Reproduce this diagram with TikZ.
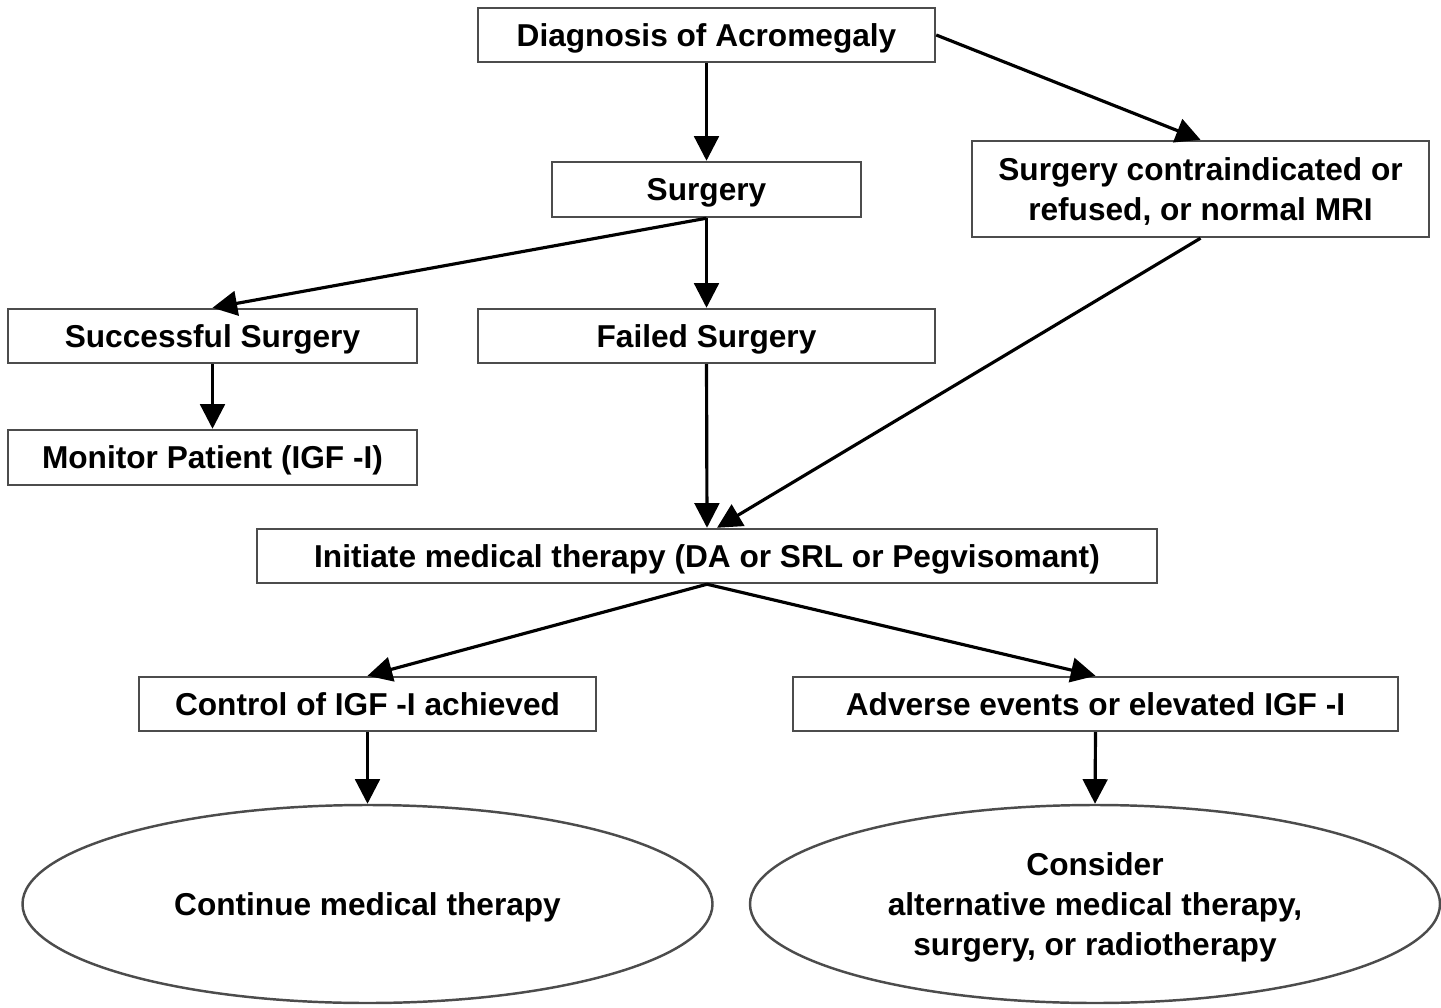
\documentclass[tikz,border=0pt]{standalone}
\usepackage{fontspec}
\setmainfont{Liberation Sans}
\usetikzlibrary{arrows.meta, shapes.geometric}
\tikzset{
  stepbox/.style={draw=gray!60!black, line width=0.7pt, rectangle, inner sep=1pt,
    align=center, text depth=0pt, font=\fontsize{9}{11.5}\selectfont\bfseries},
  endoval/.style={draw=gray!60!black, line width=0.7pt, ellipse, inner sep=0pt,
    align=center, text depth=0pt, minimum width=6.9cm, minimum height=1.98cm,
    font=\fontsize{9}{11.5}\selectfont\bfseries}
}

\begin{document}
\begin{tikzpicture}[line width=0.9pt, >={Triangle[width=7pt,length=7pt]}]
  \useasboundingbox (0,0) rectangle (14.41,-10.08);
  % top of the chart
  \node[stepbox, minimum width=4.57cm, minimum height=0.54cm] (diag) at (7.065,-0.35) {Diagnosis of Acromegaly};
  \node[stepbox, minimum width=3.09cm, minimum height=0.55cm] (surg) at (7.065,-1.895) {Surgery};
  \node[stepbox, minimum width=4.57cm, minimum height=0.96cm] (contra) at (12.005,-1.89) {Surgery contraindicated or\\refused, or normal MRI};
  %
  \node[stepbox, minimum width=4.09cm, minimum height=0.54cm] (succ) at (2.125,-3.36) {Successful Surgery};
  \node[stepbox, minimum width=4.57cm, minimum height=0.54cm] (fail) at (7.065,-3.36) {Failed Surgery};
  \node[stepbox, minimum width=4.09cm, minimum height=0.55cm] (monitor) at (2.125,-4.575) {Monitor Patient (IGF -I)};
  %
  \node[stepbox, minimum width=9.0cm, minimum height=0.54cm] (init) at (7.07,-5.56) {Initiate medical therapy (DA or SRL or Pegvisomant)};
  \node[stepbox, minimum width=4.57cm, minimum height=0.54cm] (ctrl) at (3.675,-7.04) {Control of IGF -I achieved};
  \node[stepbox, minimum width=6.05cm, minimum height=0.54cm] (adv) at (10.955,-7.04) {Adverse events or elevated IGF -I};
  %
  \node[endoval] (cont) at (3.675,-9.04) {Continue medical therapy};
  \node[endoval] (cons) at (10.95,-9.04) {Consider\\alternative medical therapy,\\surgery, or radiotherapy};
  % connectors
  \draw[->] (diag.south) -- (surg.north);
  \draw[->] (diag.east) -- (contra.north);
  \draw[->] (surg.south) -- (succ.north);
  \draw[->] (surg.south) -- (fail.north);
  \draw[->] (succ.south) -- (monitor.north);
  \draw[->] (fail.south) -- (init.north);
  \draw[->] (contra.south) -- ([xshift=1mm]init.north);
  \draw[->] (init.south) -- (ctrl.north);
  \draw[->] (init.south) -- (adv.north);
  \draw[->] (ctrl.south) -- (cont.north);
  \draw[->] (adv.south) -- (cons.north);
\end{tikzpicture}
\end{document}
